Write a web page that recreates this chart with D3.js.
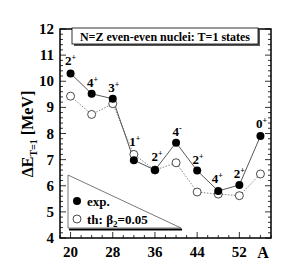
<!DOCTYPE html>
<html>
<head>
<meta charset="utf-8">
<script src="https://cdn.jsdelivr.net/npm/d3@7"></script>
<style>
  body { margin: 0; background: #fff; }
  text { font-family: "Liberation Serif", "Times New Roman", Times, serif; font-weight: bold; }
</style>
</head>
<body>
<svg width="291" height="273"></svg>
<script>
const massA = [20, 24, 28, 32, 36, 40, 44, 48, 52, 56];
const expVals = [10.3, 9.52, 9.33, 6.98, 6.6, 7.65, 6.58, 5.8, 6.03, 7.9];
const thVals = [9.43, 8.73, 9.14, 7.2, 6.6, 6.88, 5.76, 5.68, 5.62, 6.45];
const spinLabels = [
  { j: "2", p: "+" }, { j: "4", p: "+" }, { j: "3", p: "+" }, { j: "1", p: "+" },
  { j: "2", p: "+" }, { j: "4", p: "-" }, { j: "2", p: "+" }, { j: "4", p: "+" },
  { j: "2", p: "+" }, { j: "0", p: "+" }
];
// which series the spin label sits above
const labelOn = ["exp", "exp", "exp", "th", "th", "exp", "exp", "exp", "exp", "exp"];
const xTicks = [20, 28, 36, 44, 52];
const yTicks = [4, 5, 6, 7, 8, 9, 10, 11, 12];

const svg = d3.select("svg"),
  pLeft = 60, pRight = 271, pTop = 29, pBottom = 238;

// label gap above its marker, px
const labelGap = [8, 6.5, 6.5, 8, 9, 6.5, 6.5, 8, 7, 8];
const labelShift = [0, 1, 1, 1, 2, 1, 1, -1, 0, 1];

const x = d3.scaleLinear().domain([18, 58]).range([pLeft, pRight]);
const y = d3.scaleLinear().domain([4, 12]).range([pBottom, pTop]);

// frame
svg.append("rect")
  .attr("x", pLeft).attr("y", pTop)
  .attr("width", pRight - pLeft).attr("height", pBottom - pTop)
  .attr("fill", "none").attr("stroke", "#000").attr("stroke-width", 1.5);

// y ticks (left and right, inside)
const yMinor = d3.range(4, 12.001, 0.2);
yMinor.forEach(v => {
  const major = Math.abs(v - Math.round(v)) < 1e-6;
  const len = major ? 6 : 3;
  svg.append("line").attr("x1", pLeft).attr("x2", pLeft + len)
    .attr("y1", y(v)).attr("y2", y(v)).attr("stroke", "#000").attr("stroke-width", 0.8);
  svg.append("line").attr("x1", pRight).attr("x2", pRight - len)
    .attr("y1", y(v)).attr("y2", y(v)).attr("stroke", "#000").attr("stroke-width", 0.8);
});

// x ticks (bottom, inside)
d3.range(18, 58.001, 2).forEach(v => {
  const len = xTicks.includes(v) ? 6 : 3;
  svg.append("line").attr("x1", x(v)).attr("x2", x(v))
    .attr("y1", pBottom).attr("y2", pBottom - len).attr("stroke", "#000").attr("stroke-width", 0.8);
});

svg.selectAll(".ylab").data(yTicks).enter().append("text")
  .attr("x", pLeft - 6).attr("y", d => y(d) + 5)
  .attr("text-anchor", "end").attr("font-size", 15)
  .text(d => d);

svg.selectAll(".xlab").data(xTicks).enter().append("text")
  .attr("x", d => x(d)).attr("y", pBottom + 19)
  .attr("text-anchor", "middle").attr("font-size", 15)
  .text(d => d);

svg.append("text").attr("x", 263).attr("y", pBottom + 20)
  .attr("text-anchor", "middle").attr("font-size", 16).text("A");

// y axis title
const yt = svg.append("text")
  .attr("transform", "translate(33,134) rotate(-90)")
  .attr("text-anchor", "middle").attr("font-size", 16);
yt.append("tspan").text("ΔE");
yt.append("tspan").attr("font-size", 10).attr("dy", 4).text("T=1");
yt.append("tspan").attr("dy", -4).text(" [MeV]");

// title box
svg.append("rect").attr("x", 74).attr("y", 30).attr("width", 186).attr("height", 16).attr("fill", "#555");
svg.append("rect").attr("x", 72).attr("y", 28).attr("width", 186).attr("height", 16)
  .attr("fill", "#fff").attr("stroke", "#000").attr("stroke-width", 0.8);
svg.append("text").attr("x", 165).attr("y", 40.5).attr("text-anchor", "middle")
  .attr("font-size", 12).text("N=Z even-even nuclei: T=1 states");

// legend triangle
svg.append("line").attr("x1", 69).attr("x2", 182).attr("y1", 229.5).attr("y2", 229.5)
  .attr("stroke", "#000").attr("stroke-width", 2);
svg.append("path")
  .attr("d", `M68,175 L68,228 L181,228 Z`)
  .attr("fill", "#fff").attr("stroke", "#555").attr("stroke-width", 0.8);

const line = d3.line().x((d, i) => x(massA[i])).y(d => y(d));

svg.append("path").datum(thVals).attr("d", line)
  .attr("fill", "none").attr("stroke", "#666").attr("stroke-width", 0.8)
  .attr("stroke-dasharray", "1.5,1.5");
svg.append("path").datum(expVals).attr("d", line)
  .attr("fill", "none").attr("stroke", "#444").attr("stroke-width", 0.9);

svg.selectAll(".th").data(thVals).enter().append("circle")
  .attr("cx", (d, i) => x(massA[i])).attr("cy", d => y(d)).attr("r", 4)
  .attr("fill", "#fff").attr("stroke", "#000").attr("stroke-width", 0.7);
svg.selectAll(".exp").data(expVals).enter().append("circle")
  .attr("cx", (d, i) => x(massA[i])).attr("cy", d => y(d)).attr("r", 4)
  .attr("fill", "#000");

// spin labels
spinLabels.forEach((s, i) => {
  const v = labelOn[i] === "exp" ? expVals[i] : thVals[i];
  const t = svg.append("text")
    .attr("x", x(massA[i]) + labelShift[i]).attr("y", y(v) - labelGap[i])
    .attr("text-anchor", "middle").attr("font-size", 13);
  t.append("tspan").text(s.j);
  t.append("tspan").attr("font-size", 8).attr("dy", -5).text(s.p);
});

// legend entries
svg.append("circle").attr("cx", 77).attr("cy", 201).attr("r", 4).attr("fill", "#000");
svg.append("text").attr("x", 87).attr("y", 205.5).attr("font-size", 13).text("exp.");
svg.append("circle").attr("cx", 77).attr("cy", 219).attr("r", 4)
  .attr("fill", "#fff").attr("stroke", "#000").attr("stroke-width", 0.7);
const lt = svg.append("text").attr("x", 87).attr("y", 223.5).attr("font-size", 13);
lt.append("tspan").text("th: β");
lt.append("tspan").attr("font-size", 9).attr("dy", 3).text("2");
lt.append("tspan").attr("dy", -3).text("=0.05");
</script>
</body>
</html>
